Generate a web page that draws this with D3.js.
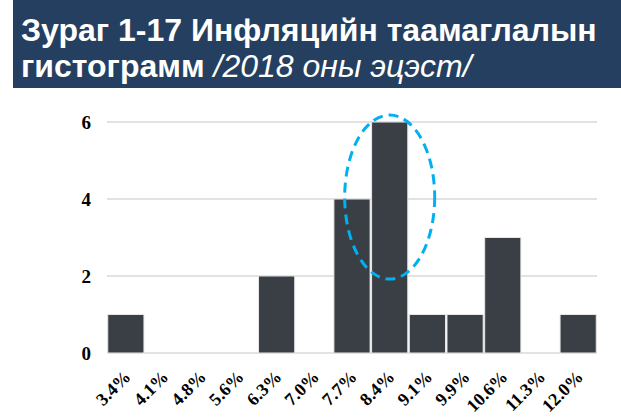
<!DOCTYPE html>
<html>
<head>
<meta charset="utf-8">
<script src="https://cdn.jsdelivr.net/npm/d3@7"></script>
<style>
  body { margin: 0; background: #fff; }
  svg { display: block; }
</style>
</head>
<body>
<svg id="chart" width="621" height="417"></svg>
<script>
// histogram of inflation expectations, end of 2018
var categories = ["3.4%", "4.1%", "4.8%", "5.6%", "6.3%", "7.0%", "7.7%", "8.4%", "9.1%", "9.9%", "10.6%", "11.3%", "12.0%"];
var counts = [1, 0, 0, 0, 2, 0, 4, 6, 1, 1, 3, 0, 1];
var yTicks = [0, 2, 4, 6];
var highlighted = "8.4%";

var margin = {top: 122, right: 24, bottom: 64, left: 107},
    width = 621 - margin.left - margin.right,
    height = 417 - margin.top - margin.bottom;

var svg = d3.select('#chart');

// title banner
svg.append('rect')
  .attr('x', 13).attr('y', 0)
  .attr('width', 608).attr('height', 88)
  .attr('fill', '#243f60');

var title = svg.append('text')
  .attr('fill', '#fff')
  .style('font-family', 'Liberation Sans, Arial, sans-serif')
  .style('font-size', '32px');
title.append('tspan').attr('x', 21).attr('y', 41)
  .style('font-weight', 'bold')
  .text('Зураг 1-17 Инфляцийн таамаглалын');
title.append('tspan').attr('x', 21).attr('y', 77)
  .style('font-weight', 'bold')
  .text('гистограмм ');
title.append('tspan')
  .style('font-style', 'italic')
  .text('/2018 оны эцэст/');

var g = svg.append('g')
  .attr('transform', 'translate(' + margin.left + ',' + margin.top + ')');

var x = d3.scaleBand()
  .domain(categories)
  .range([0, width])
  .paddingInner(0.04)
  .paddingOuter(0.02);

var y = d3.scaleLinear()
  .domain([0, 6])
  .range([height, 0]);

// gridlines
g.selectAll('.grid')
  .data(yTicks)
  .enter()
  .append('line')
  .attr('x1', 0).attr('x2', width)
  .attr('y1', function(d) { return y(d); })
  .attr('y2', function(d) { return y(d); })
  .attr('stroke', '#d9d9d9')
  .attr('stroke-width', 1.5);

// y axis labels
var yAxis = g.append('g')
  .call(d3.axisLeft(y).tickValues(yTicks).tickFormat(d3.format('d')).tickSize(0).tickPadding(16));
yAxis.select('.domain').remove();
yAxis.selectAll('text')
  .style('font-family', 'Liberation Serif, Times New Roman, serif')
  .style('font-weight', 'bold')
  .style('font-size', '19px')
  .attr('fill', '#000');

// bars
g.selectAll('.bar')
  .data(counts)
  .enter()
  .append('rect')
  .attr('class', 'bar')
  .attr('x', function(d, i) { return x(categories[i]); })
  .attr('y', function(d) { return y(d); })
  .attr('width', x.bandwidth())
  .attr('height', function(d) { return height - y(d); })
  .attr('fill', '#3a3e45')
  .attr('stroke', '#e6e6e6')
  .attr('stroke-width', 1);

// x axis labels
var xAxis = g.append('g')
  .attr('transform', 'translate(0,' + height + ')')
  .call(d3.axisBottom(x).tickSize(0).tickPadding(0));
xAxis.select('.domain').remove();
xAxis.selectAll('text')
  .style('font-family', 'Liberation Serif, Times New Roman, serif')
  .style('font-weight', 'bold')
  .style('font-size', '18px')
  .attr('fill', '#000')
  .attr('text-anchor', 'end')
  .attr('dy', '0')
  .attr('transform', 'translate(6,25) rotate(-45)');

// dashed ellipse round the peak
var cx = x(highlighted) + x.bandwidth() / 2;
g.append('ellipse')
  .attr('cx', cx)
  .attr('cy', y(4.05))
  .attr('rx', 45)
  .attr('ry', 82)
  .attr('fill', 'none')
  .attr('stroke', '#00b0f0')
  .attr('stroke-width', 3)
  .attr('stroke-dasharray', '10,6');
</script>
</body>
</html>
